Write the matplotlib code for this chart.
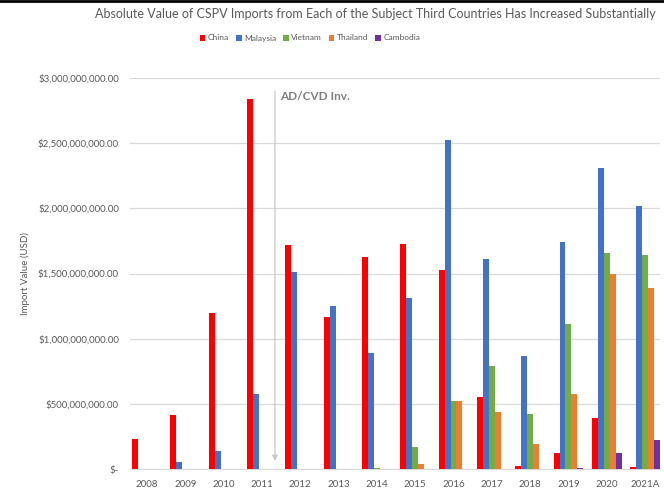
import numpy as np
import matplotlib
matplotlib.use('Agg')
import matplotlib.pyplot as plt
from matplotlib.ticker import FuncFormatter
from matplotlib.lines import Line2D

plt.rcParams['font.family'] = ['Lato', 'DejaVu Sans']

years = ['2008', '2009', '2010', '2011', '2012', '2013', '2014',
         '2015', '2016', '2017', '2018', '2019', '2020', '2021A']

# import values in USD
china = [230e6, 417e6, 1200e6, 2840e6, 1720e6, 1170e6, 1630e6,
         1730e6, 1530e6, 550e6, 20e6, 120e6, 390e6, 15e6]
malaysia = [0, 55e6, 140e6, 575e6, 1510e6, 1250e6, 893e6,
            1310e6, 2525e6, 1610e6, 867e6, 1740e6, 2310e6, 2020e6]
vietnam = [0, 0, 0, 0, 0, 0, 5e6,
           171e6, 524e6, 793e6, 425e6, 1110e6, 1655e6, 1645e6]
thailand = [0, 0, 0, 0, 0, 0, 0,
            36e6, 524e6, 440e6, 192e6, 575e6, 1500e6, 1390e6]
cambodia = [0, 0, 0, 0, 0, 0, 0,
            0, 0, 0, 0, 8e6, 125e6, 220e6]

series = [('China', china, '#FF0000'),
          ('Malaysia', malaysia, '#4472C4'),
          ('Vietnam', vietnam, '#70AD47'),
          ('Thailand', thailand, '#ED7D31'),
          ('Cambodia', cambodia, '#7030A0')]

grey = '#595959'

fig = plt.figure(figsize=(6.64, 4.97), dpi=100)
ax = fig.add_axes([130 / 664, 28 / 497, 530 / 664, 391 / 497])

x = np.arange(len(years))
w = 0.155
for k, (name, vals, col) in enumerate(series):
    ax.bar(x + (k - 2) * w, vals, w, color=col, label=name, zorder=3)

ax.set_xlim(-0.444, 13.39)
ax.set_ylim(0, 3e9)
ax.set_yticks(np.arange(0, 3.01e9, 5e8))


def money(v, pos):
    if v == 0:
        return '$-'
    return '${:,.2f}'.format(v)


ax.yaxis.set_major_formatter(FuncFormatter(money))
ax.set_xticks(x)
ax.set_xticklabels(years)
ax.tick_params(axis='both', length=0, labelsize=7, labelcolor=grey)
ax.tick_params(axis='x', pad=8)
ax.tick_params(axis='y', pad=8)
ax.grid(axis='y', color='#D9D9D9', linewidth=0.9, zorder=0)
for s in ['top', 'right', 'left']:
    ax.spines[s].set_visible(False)
ax.spines['bottom'].set_color('#D9D9D9')
ax.set_ylabel('Import Value (USD)', fontsize=7, color=grey)
ax.yaxis.set_label_coords(-0.189, 0.5)

# AD/CVD marker line
ax.annotate('', xy=(3.34, 0.04e9), xytext=(3.34, 2.92e9),
            arrowprops=dict(arrowstyle='-|>', color='#C8C8C8', lw=0.9,
                            mutation_scale=8), zorder=2)
ax.text(3.47, 2.86e9, 'AD/CVD Inv.', fontsize=8.5, fontweight='bold',
        color='#7F7F7F', va='center')

fig.text(95 / 664, 1 - 14 / 497,
         'Absolute Value of CSPV Imports from Each of the Subject Third Countries Has Increased Substantially',
         fontsize=9.0, color=grey, ha='left', va='center')

fig.legend(loc='center', bbox_to_anchor=(310 / 664, 1 - 38 / 497), ncol=5,
           frameon=False, fontsize=6, labelcolor=grey, handlelength=0.7,
           handleheight=0.7, handletextpad=0.3, columnspacing=0.8)

fig.add_artist(Line2D([0, 1], [0.998, 0.998], color='black', lw=2,
                      transform=fig.transFigure))

fig.savefig('out.png', dpi=100)
